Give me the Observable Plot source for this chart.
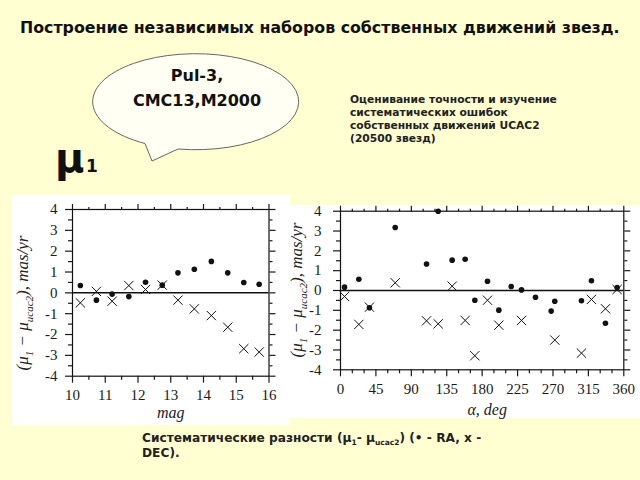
<!DOCTYPE html>
<html>
<head>
<meta charset="utf-8">
<script src="https://cdn.jsdelivr.net/npm/d3@7"></script>
<script src="https://cdn.jsdelivr.net/npm/@observablehq/plot@0.6"></script>
<style>
  html, body { margin: 0; padding: 0; }
  body { width: 640px; height: 480px; background: #ffffd2; position: relative; overflow: hidden; }
  #deco { position: absolute; left: 0; top: 0; }
  .box { position: absolute; background: #fff; }
  #left { left: 12px; top: 195px; width: 278px; height: 230px; z-index: 2; }
  #right { left: 290px; top: 205px; width: 350px; height: 213px; z-index: 1; }
  .box svg { overflow: visible; display: block; }
  .ylab { position: absolute; white-space: nowrap; font-family: "Liberation Serif", serif; font-style: italic; font-size: 17px; color: #222; transform: translate(-50%, -50%) rotate(-90deg); }
  .ylab sub { font-size: 11px; }
</style>
</head>
<body>
<svg id="deco" width="640" height="480" style="font-family: 'DejaVu Sans', sans-serif;">
  <text x="20" y="33" font-size="15.8" font-weight="bold" fill="#111">Построение независимых наборов собственных движений звезд.</text>
  <path d="M178,149 A103,48 0 1 0 145,143.5 L152,161 Z" fill="#fffff4" stroke="#666" stroke-width="1"/>
  <text x="197" y="81" font-size="16" font-weight="bold" fill="#111" text-anchor="middle">Pul-3,</text>
  <text x="197" y="106" font-size="16" font-weight="bold" fill="#111" text-anchor="middle">CMC13,M2000</text>
  <text x="55" y="172" font-size="40" font-weight="bold" fill="#111">μ</text>
  <text x="86" y="172" font-size="17" font-weight="bold" fill="#111">1</text>
  <g font-size="10.7" font-weight="bold" fill="#222">
    <text x="350" y="103">Оценивание точности и изучение</text>
    <text x="350" y="116">систематических ошибок</text>
    <text x="350" y="129">собственных движений UCAC2</text>
    <text x="350" y="142">(20500 звезд)</text>
  </g>
  <g font-size="12.2" font-weight="bold" fill="#222">
    <text x="142" y="442">Систематические разности (μ<tspan font-size="7.5" dy="3">1</tspan><tspan dy="-3">- μ</tspan><tspan font-size="7.5" dy="3">ucac2</tspan><tspan dy="-3">) (• - RA, x -</tspan></text>
    <text x="142" y="457">DEC).</text>
  </g>
</svg>
<div id="left" class="box"></div>
<div id="right" class="box"></div>
<script>
// Left panel: differences vs magnitude
const magX   = [10.24, 10.73, 11.21, 11.72, 12.23, 12.74, 13.22, 13.72, 14.24, 14.74, 15.23, 15.70];
const magRA  = [0.35, -0.35, -0.06, -0.18, 0.51, 0.37, 0.96, 1.13, 1.51, 0.96, 0.50, 0.41];
const magDEC = [-0.48, 0.07, -0.40, 0.35, 0.16, 0.37, -0.35, -0.77, -1.09, -1.65, -2.68, -2.84];

// Right panel: differences vs right ascension
const alphaRA  = [5.1, 23.3, 36.8, 69.5, 109.3, 124.1, 141.9, 158.4, 170.7, 186.8, 201.2, 216.9, 230.0, 247.8, 267.7, 272.3, 306.2, 318.9, 336.7, 351.5];
const valRA    = [0.17, 0.57, -0.87, 3.18, 1.34, 4.00, 1.53, 1.58, -0.49, 0.47, -0.99, 0.20, 0.03, -0.34, -1.04, -0.54, -0.52, 0.49, -1.65, 0.15];
const alphaDEC = [5.1, 23.3, 36.8, 69.5, 109.3, 124.1, 141.9, 158.4, 170.7, 186.8, 201.2, 230.0, 272.3, 306.2, 318.9, 336.7, 351.5];
const valDEC   = [-0.30, -1.71, -0.84, 0.39, -1.53, -1.68, 0.22, -1.51, -3.29, -0.49, -1.75, -1.51, -2.50, -3.16, -0.45, -0.92, 0.05];

// Tick values
const magTicks = [10, 11, 12, 13, 14, 15, 16];
const magMinor = [10.5, 11.5, 12.5, 13.5, 14.5, 15.5];
const alphaTicks = [0, 45, 90, 135, 180, 225, 270, 315, 360];
const alphaMinor = [15, 30, 60, 75, 105, 120, 150, 165, 195, 210, 240, 255, 285, 300, 330, 345];
const yTicks = [-4, -3, -2, -1, 0, 1, 2, 3, 4];
const yMinor = [-3.5, -2.5, -1.5, -0.5, 0.5, 1.5, 2.5, 3.5];

const xLabelMag = "mag";
const xLabelAlpha = "α, deg";

function panel(cfg) {
  const ra = cfg.xsRA.map((x, i) => ({x, v: cfg.vRA[i]}));
  const dec = cfg.xsDEC.map((x, i) => ({x, v: cfg.vDEC[i]}));
  const blank = () => "";
  const sw = 1.2;
  return Plot.plot({
    width: cfg.width, height: cfg.height,
    marginLeft: cfg.ml, marginRight: cfg.mr, marginTop: cfg.mt, marginBottom: cfg.mb,
    x: {domain: cfg.xDomain},
    y: {domain: [-4, 4]},
    style: {background: "white", fontFamily: "'Liberation Serif', serif", fontSize: "15px", color: "#1a1a1a", overflow: "visible"},
    marks: [
      Plot.frame({stroke: "#111", strokeWidth: sw}),
      Plot.ruleY([0], {stroke: "#111", strokeWidth: 1.5}),
      Plot.axisX({ticks: cfg.xMajor, anchor: "bottom", tickSize: 7, tickPadding: cfg.xPad, tickFormat: d => String(d), label: null, strokeWidth: sw, fontSize: 15}),
      Plot.axisX({ticks: cfg.xMinor, anchor: "bottom", tickSize: 4, tickFormat: blank, label: null, strokeWidth: sw}),
      Plot.axisX({ticks: cfg.xMajor, anchor: "top", tickSize: 6, tickFormat: blank, label: null, strokeWidth: sw}),
      Plot.axisX({ticks: cfg.xMinor, anchor: "top", tickSize: 3, tickFormat: blank, label: null, strokeWidth: sw}),
      Plot.axisY({ticks: yTicks, anchor: "left", tickSize: 7, tickPadding: cfg.yPad, tickFormat: d => String(d), label: null, strokeWidth: sw, fontSize: 15}),
      Plot.axisY({ticks: yMinor, anchor: "left", tickSize: 4, tickFormat: blank, label: null, strokeWidth: sw}),
      Plot.axisY({ticks: yTicks, anchor: "right", tickSize: 6, tickFormat: blank, label: null, strokeWidth: sw}),
      Plot.axisY({ticks: yMinor, anchor: "right", tickSize: 3, tickFormat: blank, label: null, strokeWidth: sw}),
      Plot.dot(dec, {x: "x", y: "v", symbol: "times", r: 4.3, stroke: "#111", strokeWidth: 1}),
      Plot.dot(ra, {x: "x", y: "v", r: 2.8, fill: "#111", stroke: "none"}),
      Plot.text([cfg.xLabel], {frameAnchor: "bottom", dy: cfg.labDy, dx: cfg.labDx, text: d => d, fontStyle: "italic", fontSize: 16, fill: "#222", lineAnchor: "middle"})
    ]
  });
}

const left = panel({
  width: 278, height: 230, ml: 60, mr: 21.5, mt: 14, mb: 49.3,
  xDomain: [10, 16], xMajor: magTicks, xMinor: magMinor,
  xsRA: magX, vRA: magRA, xsDEC: magX, vDEC: magDEC,
  xPad: 6, yPad: 8, xLabel: xLabelMag, labDy: 37, labDx: 0
});
const right = panel({
  width: 350, height: 213, ml: 50, mr: 16.7, mt: 5.7, mb: 48.7,
  xDomain: [0, 360], xMajor: alphaTicks, xMinor: alphaMinor,
  xsRA: alphaRA, vRA: valRA, xsDEC: alphaDEC, vDEC: valDEC,
  xPad: 7, yPad: 12, xLabel: xLabelAlpha, labDy: 40, labDx: 5
});

const yLabelHTML = '(μ<sub>1</sub> − μ<sub>ucac2</sub>), mas/yr';
function addYLabel(container, cx, cy) {
  const d = document.createElement("div");
  d.className = "ylab";
  d.style.left = cx + "px";
  d.style.top = cy + "px";
  d.innerHTML = yLabelHTML;
  container.appendChild(d);
}

document.getElementById("left").appendChild(left);
addYLabel(document.getElementById("left"), 12, 108);
document.getElementById("right").appendChild(right);
addYLabel(document.getElementById("right"), 8, 85);
</script>
</body>
</html>
